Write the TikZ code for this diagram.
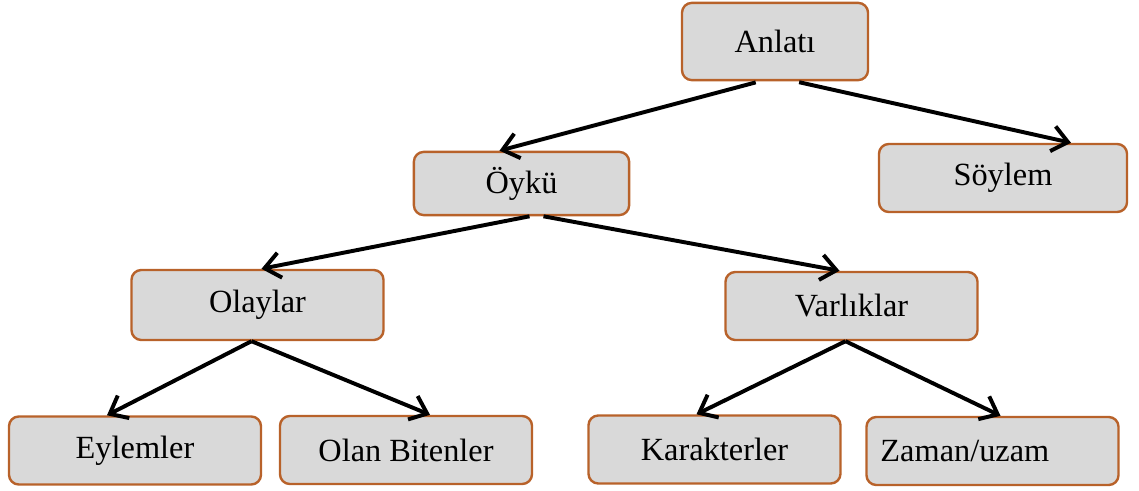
\documentclass[tikz,border=0pt]{standalone}
\usepackage{fontspec}
\setmainfont{Liberation Serif}
\usetikzlibrary{arrows.meta}
\definecolor{kenar}{RGB}{184,98,42}
\definecolor{dolgu}{RGB}{217,217,217}

\begin{document}
\begin{tikzpicture}[x=0.025cm,y=-0.025cm,
  kutu/.style={draw=kenar, fill=dolgu, line width=1.7pt, rounded corners=7pt,
    minimum width=6.3cm, minimum height=1.7cm, font=\fontsize{23}{27}\selectfont},
  ok/.style={-{Straight Barb[length=11pt,width=18pt]}, line width=2.8pt}]
\useasboundingbox (0,0) rectangle (1139,491);
\node[kutu, minimum width=4.65cm, minimum height=1.93cm] (anlati) at (775,41.5) {Anlatı};
\node[kutu, minimum width=5.38cm, minimum height=1.58cm] (oyku) at (521.5,183.5) {Öykü};
\node[kutu, minimum width=6.2cm] (soylem) at (1003,178) {Söylem};
\node[kutu, minimum height=1.75cm] (olaylar) at (257.5,305) {Olaylar};
\node[kutu, minimum height=1.7cm] (varliklar) at (851.5,306) {Varlıklar};
\node[kutu] (eylemler) at (135,450.5) {Eylemler};
\node[kutu] (olan) at (406,450) {Olan Bitenler};
\node[kutu] (karakterler) at (714.5,449.5) {Karakterler};
\node[kutu, text width=5.6cm] (zaman) at (992.5,451) {Zaman/uzam};
% oklar
\draw[ok, shorten <=3pt] ([xshift=-0.38cm]anlati.south) -- ([xshift=-0.55cm]oyku.north);
\draw[ok, shorten <=3pt] ([xshift=0.5cm]anlati.south) -- ([xshift=1.7cm]soylem.north);
\draw[ok] ([xshift=0.2cm]oyku.south) -- ([xshift=0.1cm]olaylar.north);
\draw[ok] ([xshift=0.55cm]oyku.south) -- ([xshift=-0.3cm]varliklar.north);
\draw[ok] ([xshift=-0.15cm]olaylar.south) -- ([xshift=-0.7cm]eylemler.north);
\draw[ok] ([xshift=-0.15cm]olaylar.south) -- ([xshift=0.6cm]olan.north);
\draw[ok] ([xshift=-0.15cm]varliklar.south) -- ([xshift=-0.45cm]karakterler.north);
\draw[ok] ([xshift=-0.15cm]varliklar.south) -- ([xshift=0.2cm]zaman.north);
\end{tikzpicture}
\end{document}
